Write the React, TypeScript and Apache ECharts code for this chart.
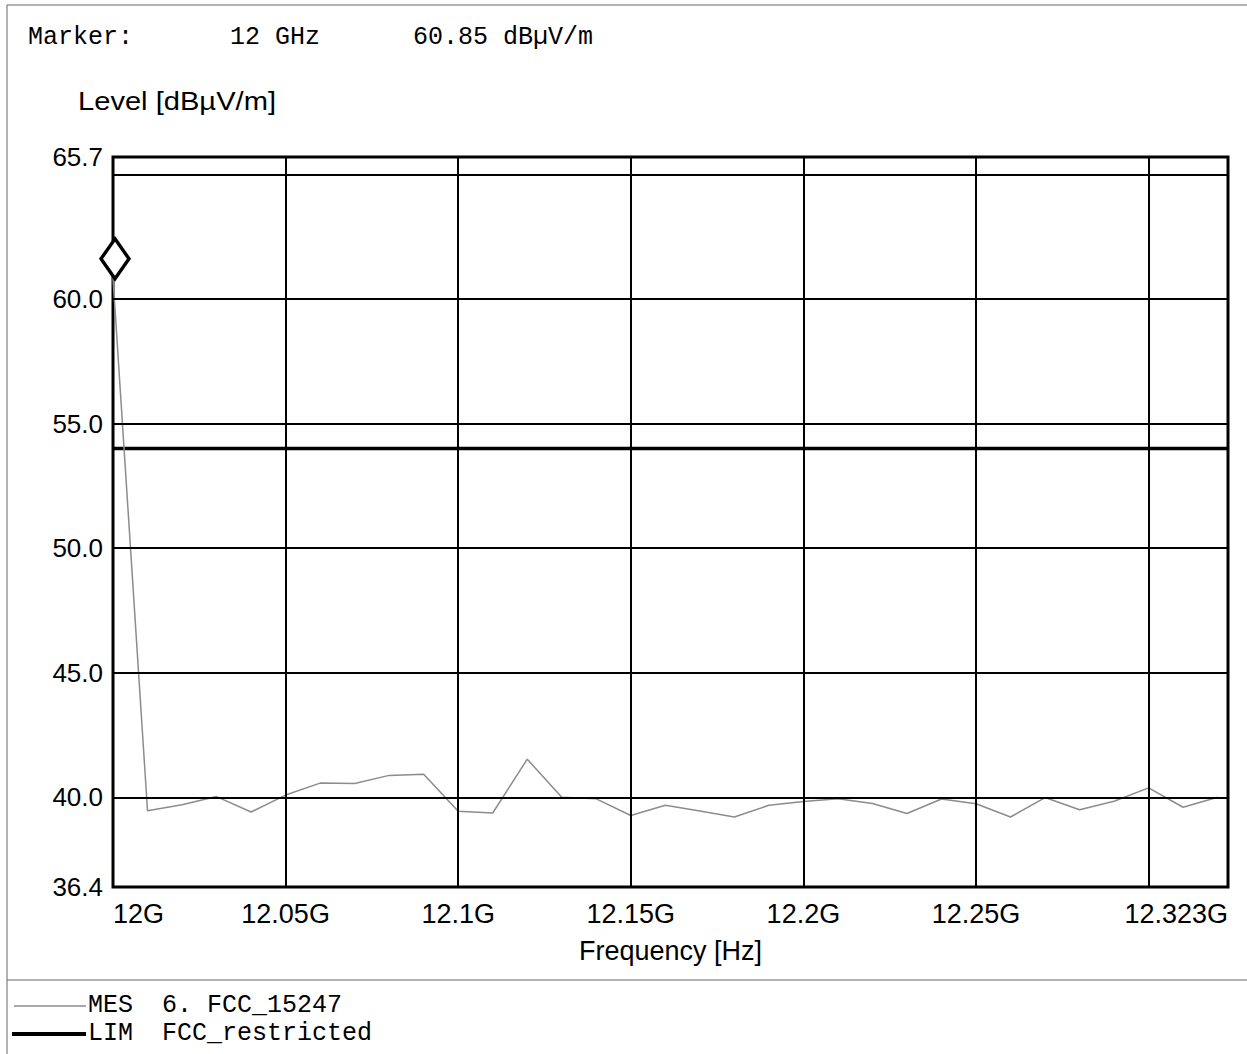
import React, { useEffect, useRef } from "react";
import * as echarts from "echarts";

// ---- Data ----
const FREQ_GHZ = [
  12.0, 12.01, 12.02, 12.03, 12.04, 12.05, 12.06, 12.07, 12.08, 12.09, 12.1,
  12.11, 12.12, 12.13, 12.14, 12.15, 12.16, 12.17, 12.18, 12.19, 12.2, 12.21,
  12.22, 12.23, 12.24, 12.25, 12.26, 12.27, 12.28, 12.29, 12.3, 12.31, 12.32,
];
const MES_DBUV = [
  60.85, 39.46, 39.7, 40.03, 39.41, 40.09, 40.57, 40.55, 40.88, 40.93, 39.44,
  39.37, 41.53, 40.0, 39.94, 39.27, 39.68, 39.45, 39.21, 39.68, 39.83, 39.94,
  39.75, 39.35, 39.93, 39.74, 39.21, 39.99, 39.5, 39.84, 40.38, 39.6, 40.0,
];
const LIMIT_FREQ = [12.0, 12.323];
const LIMIT_DBUV = [54.0, 54.0];

const Y_MIN = 36.4;
const Y_MAX = 65.7;
const X_MIN = 12.0;
const X_MAX = 12.323;
const Y_LABELS = [36.4, 40, 45, 50, 55, 60, 65.7];
const Y_GRID = [40, 45, 50, 55, 60, 65];
const X_LABELS = [12.0, 12.05, 12.1, 12.15, 12.2, 12.25, 12.323];
const X_GRID = [12.05, 12.1, 12.15, 12.2, 12.25, 12.3];
const MARKER_FREQ = 12.0;
const MARKER_LEVEL = 60.85;

const SANS = "'Liberation Sans', Arial, sans-serif";
const MONO = "'Liberation Mono', 'Courier New', monospace";

export default function App() {
  const ref = useRef<HTMLDivElement>(null);

  useEffect(() => {
    if (!ref.current) return;
    const chart = echarts.init(ref.current, undefined, { renderer: "svg" });

    const gridLines: any[] = [
      ...Y_GRID.map((v) => ({ yAxis: v })),
      ...X_GRID.map((v) => ({ xAxis: v })),
    ];

    const option: any = {
      animation: false,
      backgroundColor: "#fff",
      grid: {
        left: 113,
        top: 157,
        width: 1115,
        height: 730,
        show: true,
        borderColor: "#000",
        borderWidth: 3,
        backgroundColor: "transparent",
        containLabel: false,
      },
      xAxis: {
        type: "value",
        min: X_MIN,
        max: X_MAX,
        name: "Frequency [Hz]",
        nameLocation: "middle",
        nameGap: 50,
        nameTextStyle: { fontFamily: SANS, fontSize: 27, color: "#000" },
        axisLine: { show: false },
        axisTick: { show: false },
        splitLine: { show: false },
        axisLabel: {
          customValues: X_LABELS,
          alignMinLabel: "left",
          alignMaxLabel: "right",
          showMinLabel: true,
          showMaxLabel: true,
          margin: 13,
          fontFamily: SANS,
          fontSize: 27,
          color: "#000",
          formatter: (v: number) => parseFloat(v.toFixed(3)) + "G",
        },
      },
      yAxis: {
        type: "value",
        min: Y_MIN,
        max: Y_MAX,
        axisLine: { show: false },
        axisTick: { show: false },
        splitLine: { show: false },
        axisLabel: {
          customValues: Y_LABELS,
          showMinLabel: true,
          showMaxLabel: true,
          margin: 10,
          fontFamily: SANS,
          fontSize: 26,
          color: "#000",
          formatter: (v: number) => v.toFixed(1),
        },
      },
      series: [
        {
          name: "LIM",
          type: "line",
          z: 2,
          silent: true,
          symbol: "none",
          data: LIMIT_FREQ.map((f, i) => [f, LIMIT_DBUV[i]]),
          lineStyle: { color: "#000", width: 3.5 },
          markLine: {
            silent: true,
            symbol: "none",
            label: { show: false },
            lineStyle: { color: "#000", width: 2, type: "solid" },
            data: gridLines,
          },
        },
        {
          name: "MES",
          type: "line",
          z: 3,
          silent: true,
          symbol: "none",
          data: FREQ_GHZ.map((f, i) => [f, MES_DBUV[i]]),
          lineStyle: { color: "#8c8c8c", width: 1.5 },
          markPoint: {
            silent: true,
            symbol: "diamond",
            symbolSize: [28, 40],
            symbolOffset: [2, -19],
            label: { show: false },
            itemStyle: { color: "#fff", borderColor: "#000", borderWidth: 3.5 },
            data: [{ coord: [MARKER_FREQ, MARKER_LEVEL] }],
          },
        },
      ],
      graphic: [
        // page frame
        { type: "line", shape: { x1: 7, y1: 5, x2: 1247, y2: 5 }, style: { stroke: "#666", lineWidth: 1 } },
        { type: "line", shape: { x1: 7, y1: 5, x2: 7, y2: 1054 }, style: { stroke: "#666", lineWidth: 1 } },
        { type: "line", shape: { x1: 7, y1: 980, x2: 1247, y2: 980 }, style: { stroke: "#666", lineWidth: 1 } },
        // marker readout
        { type: "text", x: 28, y: 37, style: { text: "Marker:", font: `25px ${MONO}`, fill: "#000", verticalAlign: "middle" } },
        { type: "text", x: 230, y: 37, style: { text: "12 GHz", font: `25px ${MONO}`, fill: "#000", verticalAlign: "middle" } },
        { type: "text", x: 413, y: 37, style: { text: "60.85 dBµV/m", font: `25px ${MONO}`, fill: "#000", verticalAlign: "middle" } },
        // y axis title
        { type: "text", x: 78, y: 101, scaleX: 1.12, style: { text: "Level [dBµV/m]", font: `26px ${SANS}`, fill: "#000", verticalAlign: "middle" } },
        // legend
        { type: "line", shape: { x1: 14, y1: 1006, x2: 86, y2: 1006 }, style: { stroke: "#8c8c8c", lineWidth: 1.6 } },
        { type: "text", x: 88, y: 1005, style: { text: "MES", font: `25px ${MONO}`, fill: "#000", verticalAlign: "middle" } },
        { type: "text", x: 162, y: 1005, style: { text: "6. FCC_15247", font: `25px ${MONO}`, fill: "#000", verticalAlign: "middle" } },
        { type: "line", shape: { x1: 12, y1: 1034, x2: 86, y2: 1034 }, style: { stroke: "#000", lineWidth: 4 } },
        { type: "text", x: 88, y: 1033, style: { text: "LIM", font: `25px ${MONO}`, fill: "#000", verticalAlign: "middle" } },
        { type: "text", x: 162, y: 1033, style: { text: "FCC_restricted", font: `25px ${MONO}`, fill: "#000", verticalAlign: "middle" } },
      ],
    };

    chart.setOption(option);
    return () => chart.dispose();
  }, []);

  return (
    <div
      ref={ref}
      style={{ position: "fixed", left: 0, top: 0, width: 1247, height: 1054, background: "#fff" }}
    />
  );
}
